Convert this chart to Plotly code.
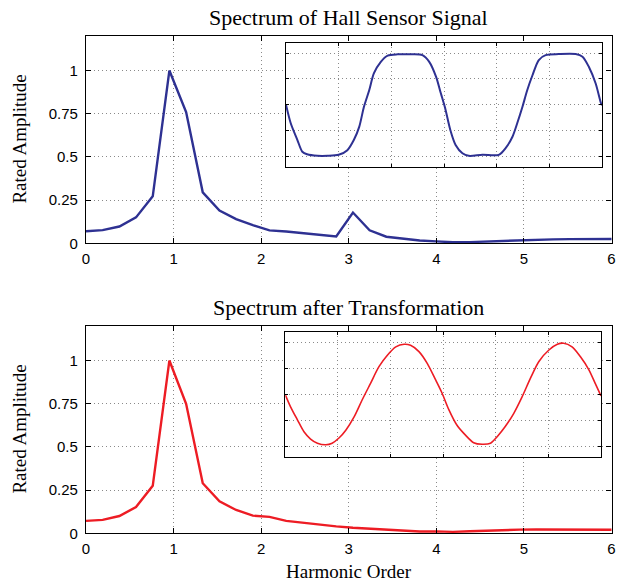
import plotly.graph_objects as go

# ---- data ----
harmonic_order = [0.0, 0.19, 0.381, 0.571, 0.762, 0.952, 1.143, 1.333, 1.524, 1.714,
                  1.905, 2.095, 2.286, 2.476, 2.667, 2.857, 3.048, 3.238, 3.429, 3.619,
                  3.81, 4.0, 4.19, 4.381, 4.571, 4.762, 4.952, 5.143, 5.333, 5.524,
                  5.714, 5.905, 6.095]
hall_spectrum = [0.070, 0.076, 0.097, 0.150, 0.272, 1.000, 0.760, 0.295, 0.190, 0.140,
                 0.105, 0.075, 0.068, 0.058, 0.048, 0.040, 0.178, 0.075, 0.038, 0.025,
                 0.016, 0.011, 0.006, 0.007, 0.011, 0.015, 0.019, 0.022, 0.023, 0.024,
                 0.025, 0.025, 0.025]
trans_spectrum = [0.072, 0.078, 0.100, 0.152, 0.275, 1.000, 0.750, 0.290, 0.185, 0.135,
                  0.102, 0.095, 0.072, 0.060, 0.049, 0.040, 0.032, 0.026, 0.019, 0.013,
                  0.010, 0.011, 0.008, 0.012, 0.016, 0.019, 0.021, 0.022, 0.022, 0.022,
                  0.021, 0.020, 0.020]

hall_t = [0.00, 0.09, 0.215, 0.31, 0.40, 0.60, 0.79, 1.00, 1.165, 1.29, 1.39, 1.48, 1.58,
          1.67, 1.80, 1.93, 2.12, 2.37, 2.59, 2.72, 2.85, 2.94, 3.02, 3.12, 3.22, 3.35,
          3.47, 3.73, 4.04, 4.17, 4.30, 4.39, 4.49, 4.58, 4.68, 4.80, 4.93, 5.18, 5.50,
          5.63, 5.75, 5.88, 5.98, 6.00]
hall_wave = [0.00, -0.36, -0.68, -0.91, -0.96, -0.99, -0.99, -0.97, -0.88, -0.68, -0.43,
             -0.04, 0.28, 0.61, 0.83, 0.95, 0.975, 0.975, 0.96, 0.83, 0.54, 0.22, -0.06,
             -0.49, -0.78, -0.94, -0.99, -0.97, -0.97, -0.84, -0.62, -0.36, -0.04, 0.28,
             0.57, 0.865, 0.96, 0.98, 0.98, 0.93, 0.735, 0.41, 0.03, -0.01]

trans_t = [0.00, 0.10, 0.23, 0.355, 0.48, 0.61, 0.77, 0.89, 1.02, 1.15, 1.31, 1.46, 1.62,
           1.78, 1.94, 2.10, 2.26, 2.38, 2.54, 2.70, 2.86, 2.98, 3.11, 3.26, 3.42, 3.58,
           3.74, 3.90, 4.03, 4.18, 4.34, 4.50, 4.66, 4.82, 5.01, 5.17, 5.29, 5.45, 5.61,
           5.77, 5.89, 6.00]
trans_wave = [0.00, -0.23, -0.48, -0.71, -0.85, -0.93, -0.96, -0.93, -0.83, -0.68, -0.42,
              -0.10, 0.22, 0.54, 0.76, 0.92, 0.97, 0.95, 0.83, 0.60, 0.28, 0.03, -0.29,
              -0.58, -0.77, -0.92, -0.95, -0.93, -0.80, -0.61, -0.36, -0.04, 0.32, 0.64,
              0.86, 0.97, 0.99, 0.92, 0.73, 0.48, 0.22, -0.02]

x_ticks = [0, 1, 2, 3, 4, 5, 6]
y_ticks = [0, 0.25, 0.5, 0.75, 1]
y_tick_text = ["0", "0.25", "0.5", "0.75", "1"]

title_top = "Spectrum of Hall Sensor Signal"
title_bottom = "Spectrum after Transformation"
y_title = "Rated Amplitude"
x_title = "Harmonic Order"

BLUE = "#2E3192"
RED = "#ED1C24"
W, H = 622, 583
SERIF = "Liberation Serif"
SANS = "Liberation Sans"

fig = go.Figure()
fig.add_trace(go.Scatter(x=harmonic_order, y=hall_spectrum, mode="lines",
                         line=dict(color=BLUE, width=2.4), xaxis="x", yaxis="y"))
fig.add_trace(go.Scatter(x=harmonic_order, y=trans_spectrum, mode="lines",
                         line=dict(color=RED, width=2.4), xaxis="x2", yaxis="y2"))
fig.add_trace(go.Scatter(x=hall_t, y=hall_wave, mode="lines",
                         line=dict(color=BLUE, width=2, shape="spline", smoothing=0.8),
                         xaxis="x3", yaxis="y3"))
fig.add_trace(go.Scatter(x=trans_t, y=trans_wave, mode="lines",
                         line=dict(color=RED, width=1.6, shape="spline", smoothing=0.8),
                         xaxis="x4", yaxis="y4"))


def px_x(a, b):
    return [a / W, b / W]


def px_y(top, bottom):
    return [1 - bottom / H, 1 - top / H]


grid = dict(showgrid=True, gridcolor="#8a8a8a", gridwidth=1, griddash="1px,3px",
            zeroline=False, showline=True, linecolor="black", linewidth=1.2,
            mirror="ticks", ticks="inside", tickcolor="black", automargin=False)

main_x = dict(grid, range=[0, 6], tickvals=x_ticks, ticklen=5,
              tickfont=dict(family=SANS, size=15, color="black"), ticklabelstandoff=2)
main_y = dict(grid, range=[0, 1.2], tickvals=y_ticks, ticktext=y_tick_text, ticklen=5,
              tickfont=dict(family=SANS, size=15, color="black"), ticklabelstandoff=4)
ins_x = dict(grid, range=[0, 6], dtick=1, tick0=0, ticklen=3, showticklabels=False)
ins_y = dict(grid, range=[-1.2, 1.2], dtick=0.5, tick0=0, ticklen=3, showticklabels=False)

fig.update_layout(
    width=W, height=H, margin=dict(l=0, r=0, t=0, b=0, autoexpand=False),
    paper_bgcolor="white", plot_bgcolor="white", showlegend=False,
    xaxis=dict(main_x, domain=px_x(86, 611.5), anchor="y"),
    yaxis=dict(main_y, domain=px_y(36, 243.3), anchor="x"),
    xaxis2=dict(main_x, domain=px_x(86, 611.5), anchor="y2"),
    yaxis2=dict(main_y, domain=px_y(326, 533.3), anchor="x2"),
    xaxis3=dict(ins_x, domain=px_x(286, 602), anchor="y3"),
    yaxis3=dict(ins_y, domain=px_y(42.7, 166.7), anchor="x3"),
    xaxis4=dict(ins_x, domain=px_x(285.3, 601), anchor="y4"),
    yaxis4=dict(ins_y, domain=px_y(332.3, 457.3), anchor="x4"),
)

# white backgrounds for the insets (drawn in the inset subplot, under its grid)
for xr, yr in (("x3", "y3"), ("x4", "y4")):
    fig.add_shape(type="rect", xref=xr, yref=yr, x0=0, x1=6, y0=-1.2, y1=1.2,
                  fillcolor="white", line=dict(width=0), layer="below")

ann_font = dict(family=SERIF, color="black")
fig.add_annotation(text=title_top, xref="paper", yref="paper", x=348.5 / W, y=1 - 18 / H,
                   showarrow=False, font=dict(ann_font, size=22), xanchor="center", yanchor="middle")
fig.add_annotation(text=title_bottom, xref="paper", yref="paper", x=348.5 / W, y=1 - 307 / H,
                   showarrow=False, font=dict(ann_font, size=22), xanchor="center", yanchor="middle")
fig.add_annotation(text=y_title, xref="paper", yref="paper", x=20 / W, y=1 - 139.6 / H,
                   showarrow=False, textangle=-90, font=dict(ann_font, size=19),
                   xanchor="center", yanchor="middle")
fig.add_annotation(text=y_title, xref="paper", yref="paper", x=20 / W, y=1 - 429.6 / H,
                   showarrow=False, textangle=-90, font=dict(ann_font, size=19),
                   xanchor="center", yanchor="middle")
fig.add_annotation(text=x_title, xref="paper", yref="paper", x=348.5 / W, y=1 - 571 / H,
                   showarrow=False, font=dict(ann_font, size=19), xanchor="center", yanchor="middle")

fig.write_html("out.html")
